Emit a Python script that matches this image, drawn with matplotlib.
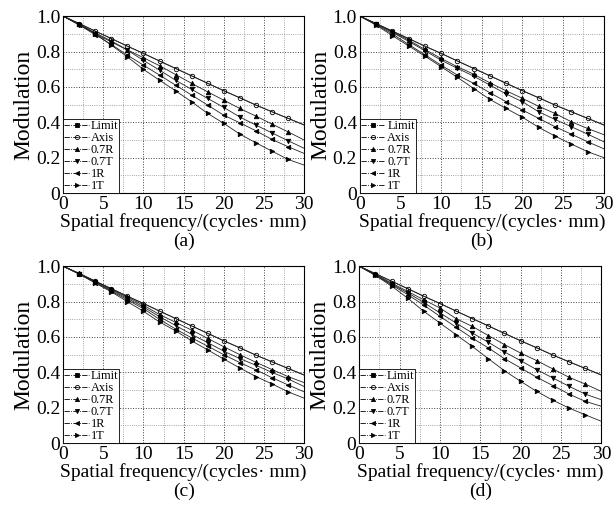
import matplotlib
matplotlib.use("Agg")
import matplotlib.pyplot as plt
import numpy as np

# spatial frequency samples (cycles/mm)
freq = [0, 2, 4, 6, 8, 10, 12, 14, 16, 18, 20, 22, 24, 26, 28, 30]

# on-axis curve (the diffraction limit lies on top of it)
axis_a = [1.0, 0.958, 0.915, 0.873, 0.830, 0.789, 0.746, 0.704, 0.662, 0.620, 0.578, 0.538, 0.497, 0.459, 0.422, 0.384]
limit_a = [1.0, 0.959, 0.916, 0.874, 0.831, 0.790, 0.747, 0.705, 0.663, 0.621, 0.579, 0.539, 0.498, 0.460, 0.423, 0.386]

# panel (a)
r07_a = [1.0, 0.955, 0.905, 0.860, 0.810, 0.765, 0.720, 0.670, 0.620, 0.572, 0.525, 0.478, 0.435, 0.390, 0.346, 0.300]
t07_a = [1.0, 0.952, 0.900, 0.855, 0.808, 0.750, 0.695, 0.638, 0.586, 0.535, 0.484, 0.430, 0.384, 0.340, 0.296, 0.253]
r1_a = [1.0, 0.950, 0.895, 0.840, 0.780, 0.723, 0.667, 0.610, 0.554, 0.497, 0.440, 0.397, 0.352, 0.303, 0.262, 0.224]
t1_a = [1.0, 0.955, 0.902, 0.836, 0.770, 0.699, 0.638, 0.578, 0.516, 0.450, 0.394, 0.333, 0.284, 0.237, 0.190, 0.158]

# panel (b)
r07_b = [1.0, 0.958, 0.912, 0.865, 0.812, 0.761, 0.714, 0.672, 0.623, 0.578, 0.535, 0.490, 0.450, 0.403, 0.365, 0.330]
t07_b = [1.0, 0.956, 0.908, 0.858, 0.805, 0.751, 0.705, 0.661, 0.610, 0.560, 0.516, 0.459, 0.416, 0.375, 0.333, 0.290]
r1_b = [1.0, 0.952, 0.900, 0.840, 0.782, 0.723, 0.667, 0.620, 0.567, 0.516, 0.469, 0.422, 0.375, 0.333, 0.290, 0.250]
t1_b = [1.0, 0.950, 0.890, 0.832, 0.774, 0.714, 0.654, 0.591, 0.529, 0.478, 0.428, 0.371, 0.322, 0.277, 0.234, 0.200]

# panel (c)
r07_c = [1.0, 0.960, 0.915, 0.870, 0.825, 0.780, 0.727, 0.683, 0.639, 0.592, 0.545, 0.500, 0.457, 0.416, 0.376, 0.342]
t07_c = [1.0, 0.958, 0.910, 0.865, 0.818, 0.770, 0.715, 0.665, 0.615, 0.568, 0.520, 0.478, 0.440, 0.400, 0.363, 0.320]
r1_c = [1.0, 0.957, 0.908, 0.860, 0.810, 0.760, 0.700, 0.645, 0.595, 0.548, 0.500, 0.455, 0.414, 0.370, 0.329, 0.290]
t1_c = [1.0, 0.955, 0.905, 0.855, 0.800, 0.745, 0.685, 0.635, 0.578, 0.527, 0.475, 0.425, 0.376, 0.335, 0.290, 0.254]

# panel (d)
r07_d = [1.0, 0.955, 0.905, 0.858, 0.810, 0.764, 0.704, 0.660, 0.608, 0.557, 0.509, 0.466, 0.419, 0.372, 0.334, 0.292]
t07_d = [1.0, 0.952, 0.900, 0.850, 0.795, 0.736, 0.679, 0.623, 0.570, 0.515, 0.466, 0.415, 0.368, 0.321, 0.277, 0.245]
r1_d = [1.0, 0.950, 0.895, 0.840, 0.780, 0.717, 0.655, 0.594, 0.538, 0.477, 0.425, 0.372, 0.325, 0.277, 0.236, 0.208]
t1_d = [1.0, 0.948, 0.888, 0.820, 0.745, 0.679, 0.613, 0.547, 0.477, 0.409, 0.349, 0.292, 0.242, 0.198, 0.160, 0.123]

labels = ["Limit", "Axis", "0.7R", "0.7T", "1R", "1T"]
markers = ["s", "o", "^", "v", "<", ">"]
fills = ["k", "none", "k", "k", "k", "k"]

panels = [
    ("(a)", [limit_a, axis_a, r07_a, t07_a, r1_a, t1_a], [0.103, 0.6245, 0.393, 0.344]),
    ("(b)", [limit_a, axis_a, r07_b, t07_b, r1_b, t1_b], [0.587, 0.6245, 0.398, 0.344]),
    ("(c)", [limit_a, axis_a, r07_c, t07_c, r1_c, t1_c], [0.103, 0.138, 0.393, 0.344]),
    ("(d)", [limit_a, axis_a, r07_d, t07_d, r1_d, t1_d], [0.586, 0.138, 0.395, 0.344]),
]

plt.rcParams['font.family'] = ['Liberation Serif', 'DejaVu Serif']

fig = plt.figure(figsize=(6.13, 5.14), dpi=100)

for tag, series, pos in panels:
    ax = fig.add_axes(pos)
    for i, (ys, mk, fc) in enumerate(zip(series, markers, fills)):
        ax.plot(freq, ys, '-', color='#222222', lw=0.6)
        if i == 0:
            continue  # limit markers hidden under the axis curve
        ax.plot(freq[1:-1], ys[1:-1], linestyle='none', marker=mk, ms=3.2,
                mfc=fc, mec='k', mew=0.6)
    # legend proxies
    handles = [ax.plot([], [], '-.', color='k', lw=0.6, marker=mk, ms=3,
                       mfc=fc, mec='k', mew=0.6)[0]
               for mk, fc in zip(markers, fills)]
    leg = ax.legend(handles, labels, loc='lower left', fontsize=8.8,
                    labelspacing=0.0, handlelength=2.0, handletextpad=0.15,
                    borderpad=0.1, borderaxespad=0.0, frameon=True,
                    fancybox=False, framealpha=1, edgecolor='k')
    leg.get_frame().set_linewidth(0.6)

    ax.set_xlim(0, 30)
    ax.set_ylim(0, 1.0)
    ax.set_xticks([0, 5, 10, 15, 20, 25, 30])
    ax.set_xticklabels(['0', '5', '10', '15', '20', '25', '30'])
    ax.set_yticks([0, 0.2, 0.4, 0.6, 0.8, 1.0])
    ax.set_yticklabels(['0', '0.2', '0.4', '0.6', '0.8', '1.0'])
    ax.set_xticks(np.arange(0, 30.1, 2.5), minor=True)
    ax.set_yticks(np.arange(0, 1.01, 0.1), minor=True)
    ax.grid(which='minor', linestyle=':', color='#888888', lw=0.6)
    ax.grid(which='major', linestyle=':', color='#444444', lw=0.7)
    ax.tick_params(which='both', direction='in', length=0, labelsize=14, pad=2)
    for sp in ax.spines.values():
        sp.set_linewidth(0.8)
    ax.set_ylabel('Modulation', fontsize=17, labelpad=1)
    ax.set_xlabel('Spatial frequency/(cycles\u00b7 mm)', fontsize=14, labelpad=0)
    ax.text(0.5, -0.225, tag, transform=ax.transAxes, ha='center', va='top', fontsize=14)

fig.savefig('out.png', dpi=100)
plt.close(fig)
